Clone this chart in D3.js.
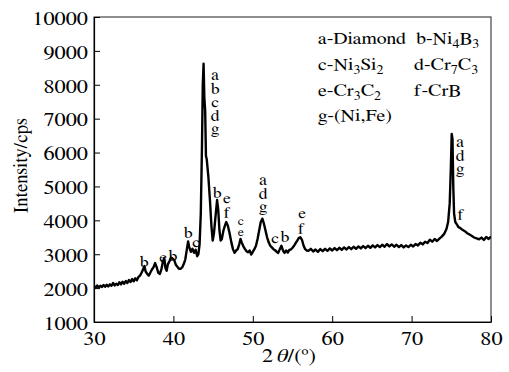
<!DOCTYPE html>
<html>
<head>
<meta charset="utf-8">
<script src="https://cdn.jsdelivr.net/npm/d3@7"></script>
<style>
  body { margin: 0; background: #fff; }
  svg { display: block; }
</style>
</head>
<body>
<div id="chart"></div>
<script>
// XRD pattern: [2theta, intensity]
const xrd = [
  [30.0,2060],[30.2,2010],[30.4,2080],[30.6,2020],[30.8,2070],[31.0,2030],[31.2,2090],[31.4,2040],
  [31.6,2100],[31.8,2050],[32.0,2110],[32.2,2070],[32.4,2150],[32.6,2080],[32.8,2130],[33.0,2090],
  [33.2,2170],[33.4,2110],[33.6,2190],[33.8,2130],[34.0,2210],[34.2,2150],[34.4,2240],[34.6,2180],
  [34.8,2270],[35.0,2200],[35.2,2290],[35.4,2230],[35.6,2330],[35.8,2370],[36.0,2460],[36.2,2560],
  [36.35,2650],[36.5,2490],[36.7,2420],[36.9,2370],[37.1,2460],[37.3,2550],[37.5,2620],[37.7,2740],
  [37.9,2610],[38.1,2450],[38.3,2420],[38.5,2570],[38.7,2800],[38.85,2880],[39.0,2590],[39.15,2510],
  [39.3,2700],[39.5,2790],[39.7,2900],[39.9,2870],[40.1,2830],[40.3,2690],[40.5,2630],[40.7,2570],
  [40.9,2570],[41.1,2610],[41.3,2710],[41.5,2850],[41.7,3150],[41.85,3380],[42.0,3200],[42.2,3070],
  [42.4,3160],[42.6,3040],[42.8,3130],[43.0,2940],[43.15,3000],[43.3,3300],[43.45,4200],[43.6,6200],
  [43.7,8000],[43.8,8620],[43.9,7600],[44.0,7250],[44.1,5900],[44.2,5800],[44.4,5300],[44.6,4600],
  [44.8,3800],[44.95,3400],[45.1,3600],[45.3,4100],[45.5,4600],[45.65,4300],[45.8,3700],[45.95,3400],
  [46.1,3450],[46.3,3700],[46.5,3850],[46.65,3950],[46.85,3850],[47.05,3650],[47.3,3350],[47.5,3150],
  [47.7,3040],[47.9,3110],[48.1,3150],[48.3,3300],[48.45,3450],[48.6,3350],[48.8,3240],[49.0,3160],
  [49.2,3090],[49.4,3060],[49.6,3110],[49.8,2990],[50.0,3070],[50.2,3150],[50.4,3250],[50.6,3450],
  [50.8,3700],[51.0,3950],[51.2,4050],[51.4,3900],[51.6,3700],[51.8,3500],[52.0,3350],[52.2,3250],
  [52.4,3200],[52.6,3150],[52.8,3120],[53.0,3070],[53.2,3040],[53.4,3150],[53.6,3250],[53.8,3110],
  [54.0,3040],[54.2,3110],[54.4,3050],[54.6,3130],[54.8,3140],[55.0,3190],[55.2,3250],[55.4,3330],
  [55.6,3400],[55.8,3480],[56.0,3500],[56.2,3420],[56.4,3250],[56.6,3150],[56.8,3110],[57.0,3100],
  [57.3,3160],[57.6,3080],[57.9,3140],[58.2,3070],[58.5,3150],[58.8,3090],[59.1,3160],[59.4,3100],
  [59.7,3170],[60.0,3110],[60.3,3180],[60.6,3120],[60.9,3190],[61.2,3130],[61.5,3200],[61.8,3140],
  [62.1,3210],[62.4,3150],[62.7,3220],[63.0,3160],[63.3,3230],[63.6,3170],[63.9,3240],[64.2,3180],
  [64.5,3250],[64.8,3190],[65.1,3260],[65.4,3200],[65.7,3270],[66.0,3210],[66.3,3280],[66.6,3220],
  [66.9,3300],[67.2,3230],[67.5,3290],[67.8,3220],[68.1,3280],[68.4,3210],[68.7,3270],[69.0,3200],
  [69.3,3260],[69.6,3210],[69.9,3280],[70.2,3230],[70.5,3300],[70.8,3260],[71.1,3340],[71.4,3290],
  [71.7,3370],[72.0,3330],[72.3,3430],[72.6,3370],[72.9,3450],[73.2,3390],[73.5,3460],[73.8,3520],
  [74.1,3600],[74.4,3750],[74.6,3950],[74.8,4500],[74.95,5600],[75.05,6550],[75.15,6400],[75.25,5000],
  [75.35,4200],[75.5,3950],[75.7,3880],[75.9,3800],[76.1,3780],[76.4,3720],[76.7,3680],[77.0,3620],
  [77.3,3580],[77.6,3540],[77.9,3490],[78.2,3470],[78.5,3440],[78.8,3490],[79.1,3420],[79.4,3510],
  [79.7,3450],[80.0,3520]
];

const xTicks = [30, 40, 50, 60, 70, 80];
const yTicks = [1000, 2000, 3000, 4000, 5000, 6000, 7000, 8000, 9000, 10000];

// phase letters over the peaks: [2theta, intensity of baseline, text]
const peakLabels = [
  [36.3, 2620, "b"], [38.7, 2770, "e"], [39.95, 2800, "b"], [41.85, 3480, "b"], [42.85, 3210, "c"],
  [45.5, 4660, "b"], [46.75, 4510, "e"], [46.75, 4070, "f"],
  [52.8, 3330, "c"], [54.05, 3360, "b"], [56.2, 4070, "e"], [56.1, 3600, "f"], [76.2, 4010, "f"]
];
const smallLabels = [[48.5, 3860, "c"], [48.5, 3540, "e"]];
// stacked letters: [2theta, intensity of first baseline, letters]
const stackLabels = [
  [45.25, 8140, "abcdg"],
  [51.3, 5040, "adg"],
  [76.1, 6160, "adg"]
];

const legendRows = [
  ["a-Diamond", "b-Ni_4B_3"],
  ["c-Ni_3Si_2", "d-Cr_7C_3"],
  ["e-Cr_3C_2", "f-CrB"],
  ["g-(Ni,Fe)"]
];

const width = 509, height = 372;
const margin = { top: 17, right: 18, bottom: 50, left: 94 };

// pick the narrowest installed Times-like serif
const ctx = document.createElement("canvas").getContext("2d");
const candidates = ["Liberation Serif", "Times New Roman", "Tinos", "Nimbus Roman", "FreeSerif", "DejaVu Serif"];
let font = "serif", best = Infinity;
candidates.forEach(f => {
  ctx.font = `17px "${f}", monospace`;
  const w = ctx.measureText("a-Diamond").width;
  if (w < best) { best = w; font = f; }
});
const family = `"${font}", serif`;
// the reference text is drawn a bit wider than normal: "a-Diamond" is ~88px at 17px
const stretch = 88 / best;

const svg = d3.select("#chart").append("svg")
  .attr("width", width)
  .attr("height", height)
  .style("font-family", family);

const x = d3.scaleLinear().domain([30, 80]).range([margin.left, width - margin.right]);
const y = d3.scaleLinear().domain([1000, 10000]).range([height - margin.bottom, margin.top]);

svg.append("defs").append("clipPath").attr("id", "plot")
  .append("rect")
  .attr("x", margin.left).attr("y", margin.top)
  .attr("width", width - margin.left - margin.right)
  .attr("height", height - margin.top - margin.bottom);

// frame
svg.append("rect")
  .attr("x", margin.left).attr("y", margin.top)
  .attr("width", width - margin.left - margin.right)
  .attr("height", height - margin.top - margin.bottom)
  .attr("fill", "none")
  .attr("stroke", "#444")
  .attr("stroke-width", 1.2);

// axes with inward ticks
const xAxis = svg.append("g")
  .attr("transform", `translate(0,${height - margin.bottom})`)
  .call(d3.axisBottom(x).tickValues(xTicks).tickFormat(d3.format("d"))
    .tickSizeInner(-6).tickSizeOuter(0).tickPadding(0));
const yAxis = svg.append("g")
  .attr("transform", `translate(${margin.left},0)`)
  .call(d3.axisLeft(y).tickValues(yTicks).tickFormat(d3.format("d"))
    .tickSizeInner(-6).tickSizeOuter(0).tickPadding(0));

[xAxis, yAxis].forEach(a => {
  a.attr("font-family", family);
  a.select(".domain").attr("stroke", "#000").attr("stroke-width", 1.2);
  a.selectAll(".tick line").attr("stroke", "#000").attr("stroke-width", 1);
  a.selectAll("text")
    .attr("font-size", 19)
    .attr("fill", "#000");
});
xAxis.selectAll("text").attr("y", 23).attr("dy", 0)
  .attr("transform", `scale(${stretch},1)`);
yAxis.selectAll("text").attr("x", -6 / stretch).attr("dy", "0.38em")
  .attr("transform", `scale(${stretch},1)`);

// pattern
svg.append("path")
  .datum(xrd)
  .attr("clip-path", "url(#plot)")
  .attr("fill", "none")
  .attr("stroke", "#000")
  .attr("stroke-width", 2.4)
  .attr("stroke-linejoin", "round")
  .attr("d", d3.line().x(d => x(d[0])).y(d => y(d[1])));

// peak labels
const labelG = svg.append("g")
  .attr("fill", "#000")
  .attr("text-anchor", "middle");

const place = (t, I) => `translate(${x(t)},${y(I)}) scale(${stretch},1)`;

labelG.selectAll("text.pk")
  .data(peakLabels)
  .join("text")
  .attr("class", "pk")
  .attr("transform", d => place(d[0], d[1]))
  .attr("font-size", 15)
  .text(d => d[2]);

labelG.selectAll("text.sm")
  .data(smallLabels)
  .join("text")
  .attr("class", "sm")
  .attr("transform", d => place(d[0], d[1]))
  .attr("font-size", 12)
  .text(d => d[2]);

stackLabels.forEach(([t, I, letters]) => {
  letters.split("").forEach((ch, i) => {
    labelG.append("text")
      .attr("transform", `translate(${x(t)},${y(I) + i * 13.5}) scale(${stretch},1)`)
      .attr("font-size", 15)
      .text(ch);
  });
});

// legend with subscripts
function richText(sel, str) {
  const parts = str.split(/_(.)/);
  parts.forEach((p, i) => {
    if (!p) return;
    if (i % 2 === 1) sel.append("tspan").attr("dy", 4).attr("font-size", 12).text(p);
    else sel.append("tspan").attr("dy", i > 0 ? -4 : 0).text(p);
  });
}

const legendX = [318, 414];
const legendY = [44, 70, 96, 121];
legendRows.forEach((row, r) => {
  row.forEach((item, c) => {
    const t = svg.append("text")
      .attr("transform", `translate(${legendX[c] + (c === 1 && r === 0 ? 2 : 0)},${legendY[r]}) scale(${stretch},1)`)
      .attr("font-size", 17)
      .attr("fill", "#000");
    richText(t, item);
  });
});

// axis titles
svg.append("text")
  .attr("transform", `translate(27,${(margin.top + height - margin.bottom) / 2 - 4}) rotate(-90)`)
  .attr("text-anchor", "middle")
  .attr("font-size", 19)
  .attr("fill", "#000")
  .text("Intensity/cps");

const xt = svg.append("text")
  .attr("transform", `translate(289,362) scale(${stretch},1)`)
  .attr("text-anchor", "middle")
  .attr("font-size", 19)
  .attr("fill", "#000");
xt.append("tspan").text("2");
xt.append("tspan").attr("dx", 3).attr("font-style", "italic").text("θ");
xt.append("tspan").text("/(");
xt.append("tspan").attr("dy", -7).attr("font-size", 12).text("o");
xt.append("tspan").attr("dy", 7).text(")");
</script>
</body>
</html>
